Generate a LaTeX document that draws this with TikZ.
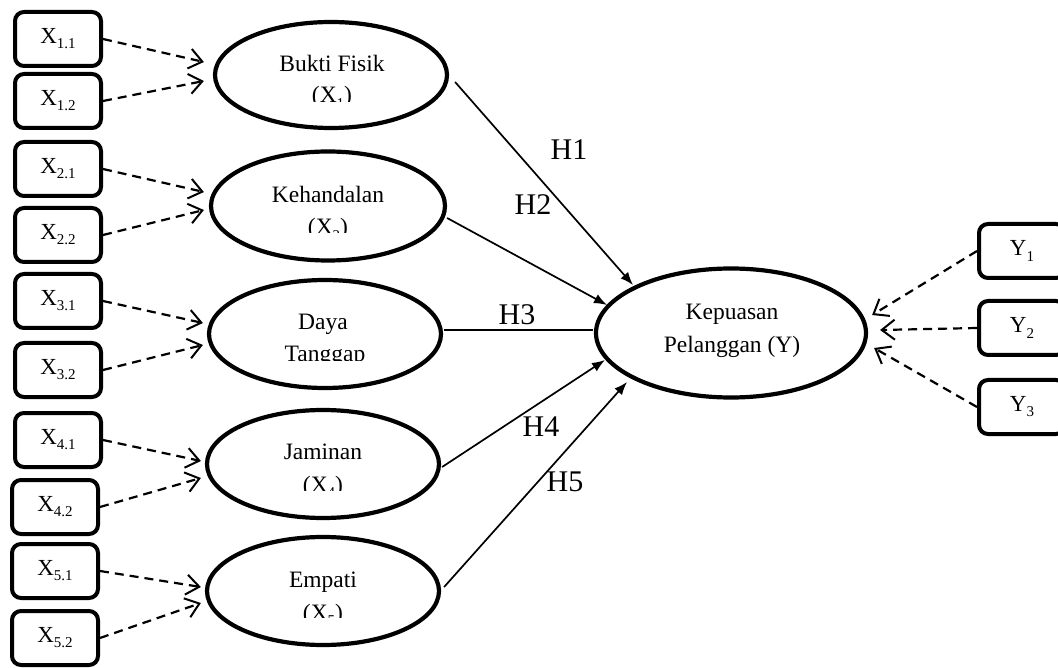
\documentclass[tikz,border=0pt]{standalone}
\usepackage{fontspec}
\setmainfont{Liberation Serif}
\usetikzlibrary{arrows.meta,shapes.geometric}
\newcommand{\mysub}[1]{\raisebox{-0.22em}{\fontsize{15}{15}\selectfont #1}}
\begin{document}
\begin{tikzpicture}[x=1pt,y=-1pt,
 ind/.style={draw,line width=4pt,rounded corners=9pt,minimum width=86pt,minimum height=54pt,inner sep=0pt,font=\fontsize{23}{26}\selectfont},
 lat/.style={draw,ellipse,line width=4.2pt,inner sep=0pt},
 lbl/.style={anchor=base,inner sep=0pt,font=\fontsize{23.5}{28}\selectfont},
 hl/.style={anchor=base,inner sep=0pt,font=\fontsize{30}{34}\selectfont},
 dasharr/.style={line width=2.2pt,dash pattern=on 9pt off 6pt,-{Straight Barb[length=13pt,width=20pt,line width=2pt]}},
 patharr/.style={line width=1.7pt,-{Latex[length=13pt,width=10pt]}},
 pathline/.style={line width=1.7pt}]
\useasboundingbox (0,0) rectangle (1058,668);
% indicator boxes
\node[ind] (x11) at (58,39) {X\mysub{1.1}};
\node[ind] (x12) at (58,101) {X\mysub{1.2}};
\node[ind] (x21) at (58,169) {X\mysub{2.1}};
\node[ind] (x22) at (58,235) {X\mysub{2.2}};
\node[ind] (x31) at (58,301) {X\mysub{3.1}};
\node[ind] (x32) at (58,370) {X\mysub{3.2}};
\node[ind] (x41) at (58,440) {X\mysub{4.1}};
\node[ind] (x42) at (55,507) {X\mysub{4.2}};
\node[ind] (x51) at (55,571) {X\mysub{5.1}};
\node[ind] (x52) at (55,638) {X\mysub{5.2}};
\node[ind] (y1) at (1022,251) {Y\mysub{1}};
\node[ind] (y2) at (1022,328) {Y\mysub{2}};
\node[ind] (y3) at (1022,407) {Y\mysub{3}};
% latent ellipses
\node[lat,minimum width=232pt,minimum height=106pt] (e1) at (331,75) {};
\node[lat,minimum width=234pt,minimum height=109pt] (e2) at (328,206) {};
\node[lat,minimum width=232pt,minimum height=108pt] (e3) at (325,334) {};
\node[lat,minimum width=232pt,minimum height=108pt] (e4) at (323,464) {};
\node[lat,minimum width=232pt,minimum height=108pt] (e5) at (323,591) {};
\node[lat,minimum width=270pt,minimum height=129pt] (ey) at (731,333) {};
% ellipse texts (clipped as in the original)
\begin{scope}\clip (215,30) rectangle (445,102);
\node[lbl] (t1a) at (332,72) {Bukti Fisik};
\node[lbl] (t1b) at (332,103) {(X\mysub{1})};
\end{scope}
\begin{scope}\clip (215,160) rectangle (445,233);
\node[lbl] (t2a) at (328,203) {Kehandalan};
\node[lbl] (t2b) at (328,235) {(X\mysub{2})};
\end{scope}
\begin{scope}\clip (215,290) rectangle (440,361);
\node[lbl] (t3a) at (323,330) {Daya};
\node[lbl] (t3b) at (325,362) {Tanggap};
\end{scope}
\begin{scope}\clip (215,420) rectangle (440,490);
\node[lbl] (t4a) at (323,459) {Jaminan};
\node[lbl] (t4b) at (323,492) {(X\mysub{4})};
\end{scope}
\begin{scope}\clip (215,545) rectangle (440,617);
\node[lbl] (t5a) at (323,587) {Empati};
\node[lbl] (t5b) at (323,620) {(X\mysub{5})};
\end{scope}
\node[lbl] (tya) at (732,320) {Kepuasan};
\node[lbl] (tyb) at (732,353) {Pelanggan (Y)};
% reflective indicators
\draw[dasharr] (x11.east) -- ([shift={(-9,-13)}]e1.west);
\draw[dasharr] (x12.east) -- ([shift={(-9,6)}]e1.west);
\draw[dasharr] (x21.east) -- ([shift={(-5,-14)}]e2.west);
\draw[dasharr] (x22.east) -- ([shift={(-5,4)}]e2.west);
\draw[dasharr] (x31.east) -- ([shift={(-4,-11)}]e3.west);
\draw[dasharr] (x32.east) -- ([shift={(-4,11)}]e3.west);
\draw[dasharr] (x41.east) -- ([shift={(-4,-3)}]e4.west);
\draw[dasharr] (x42.east) -- ([shift={(-4,14)}]e4.west);
\draw[dasharr] (x51.east) -- ([shift={(-4,-4)}]e5.west);
\draw[dasharr] (x52.east) -- ([shift={(-4,12)}]e5.west);
\draw[dasharr] (y1.west) -- ([shift={(4,-18)}]ey.east);
\draw[dasharr] (y2.west) -- ([shift={(12,-3)}]ey.east);
\draw[dasharr] (y3.west) -- ([shift={(6,15)}]ey.east);
% structural paths
\draw[patharr] ([shift={(6,7)}]e1.east) -- ([shift={(-98,-48)}]ey.center);
\draw[patharr] ([shift={(0,12)}]e2.east) -- ([shift={(-124,-28)}]ey.center);
\draw[pathline] ([shift={(1,-4)}]e3.east) -- ([shift={(-1,-3)}]ey.west);
\draw[patharr] ([shift={(1,3)}]e4.east) -- ([shift={(-126,27)}]ey.center);
\draw[patharr] ([shift={(3,-4)}]e5.east) -- ([shift={(-104,49)}]ey.center);
% hypothesis labels
\node[hl] (h1) at (569,160) {H1};
\node[hl] (h2) at (533,215) {H2};
\node[hl] (h3) at (517,325) {H3};
\node[hl] (h4) at (541,436) {H4};
\node[hl] (h5) at (565,491) {H5};
\end{tikzpicture}
\end{document}
